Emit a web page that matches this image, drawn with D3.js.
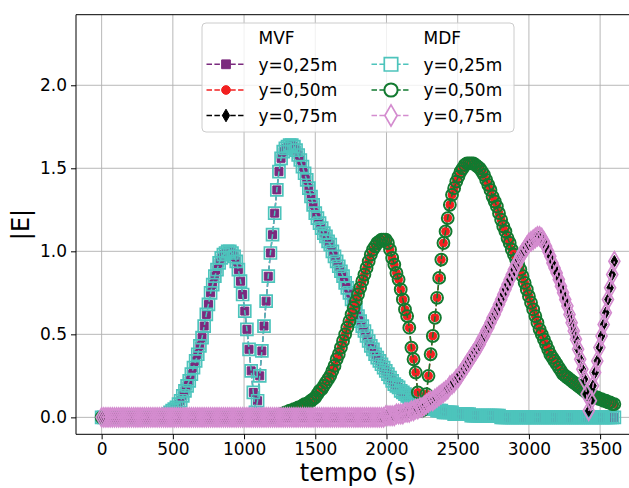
<!DOCTYPE html>
<html>
<head>
<meta charset="utf-8">
<script src="https://cdn.jsdelivr.net/npm/d3@7"></script>
<style>
  body { margin: 0; background: #fff; }
  text { font-family: "DejaVu Sans", sans-serif; fill: #000; }
</style>
</head>
<body>
<script>
// samples every 15 s, from 0 s to 3600 s
var tStep = 15;

// |E| at y=0,25m (MVF)
var mvf025 = [
  0,0,0,0,0,0,0,0,0,0,
  0,0,0,0,0,0,0,0,0,0,
  0,0,0,0,0,0,0,0,
  0.00,0.01,0.01,0.02,0.03,0.04,0.05,0.06,0.08,0.10,
  0.13,0.16,0.19,0.22,0.26,0.30,0.34,0.38,0.43,0.48,
  0.55,0.62,0.68,0.75,0.80,0.85,0.89,0.93,0.96,0.98,
  0.99,1.00,1.00,0.99,0.97,0.94,0.89,0.82,0.74,0.64,
  0.53,0.41,0.28,0.15,0.03,0.10,0.25,0.40,0.55,0.70,
  0.85,0.99,1.10,1.23,1.37,1.48,1.56,1.60,1.62,1.63,
  1.64,1.64,1.63,1.61,1.58,1.55,1.51,1.47,1.43,1.38,
  1.33,1.28,1.23,1.20,1.17,1.14,1.11,1.09,1.06,1.04,
  1.00,0.97,0.94,0.91,0.88,0.85,0.81,0.78,0.75,0.71,
  0.68,0.65,0.61,0.58,0.55,0.52,0.49,0.46,0.43,0.41,
  0.38,0.36,0.34,0.32,0.30,0.28,0.26,0.24,0.22,0.20,
  0.19,0.18,0.16,0.15,0.14,0.13,0.12,0.11,0.10,0.09,
  0.09,0.08,0.07,0.07,0.06,0.06,0.05,0.05,0.05,0.04,
  0.04,0.04,0.03,0.03,0.03,0.03,0.03,0.02,0.02,0.02,
  0.02,0.02,0.02,0.02,0.02,0.01,0.01,0.01,0.01,0.01,
  0.01,0.01,0.01,0.01,0.01,0.01,0.01,0.01,0.01,0,
  0,0,0,0,0,0,0,0,0,0,
  0,0,0,0,0,0,0,0,0,0,
  0,0,0,0,0,0,0,0,0,0,
  0,0,0,0,0,0,0,0,0,0,
  0,0,0,0,0,0,0,0,0,0,
  0,0,0
];

// |E| at y=0,50m (MVF)
var mvf050 = [
  0,0,0,0,0,0,0,0,0,0,
  0,0,0,0,0,0,0,0,0,0,
  0,0,0,0,0,0,0,0,0,0,
  0,0,0,0,0,0,0,0,0,0,
  0,0,0,0,0,0,0,0,0,0,
  0,0,0,0,0,0,0,0,0,0,
  0,0,0,0,0,0,0,0,0,0,
  0,0,0,0,0,0,0,0,0,0,
  0,
  0.00,0.01,0.01,0.02,0.02,0.03,0.03,0.04,0.04,0.05,
  0.05,0.06,0.06,0.07,0.08,0.08,0.09,0.10,0.11,0.12,
  0.14,0.16,0.17,0.19,0.21,0.23,0.25,0.28,0.31,0.35,
  0.38,0.42,0.46,0.50,0.54,0.58,0.62,0.66,0.70,0.74,
  0.78,0.82,0.86,0.90,0.94,0.98,1.01,1.03,1.05,1.06,
  1.07,1.07,1.07,1.05,1.01,0.96,0.92,0.87,0.83,0.77,
  0.71,0.65,0.61,0.54,0.42,0.35,0.27,0.15,0.06,0.04,
  0.06,0.14,0.25,0.38,0.49,0.60,0.72,0.84,0.95,1.05,
  1.12,1.20,1.28,1.34,1.38,1.42,1.45,1.48,1.50,1.52,
  1.53,1.53,1.53,1.53,1.52,1.51,1.50,1.48,1.46,1.43,
  1.40,1.37,1.33,1.30,1.27,1.23,1.19,1.15,1.12,1.08,
  1.05,1.01,0.98,0.95,0.92,0.89,0.85,0.81,0.77,0.73,
  0.69,0.65,0.61,0.57,0.53,0.50,0.47,0.44,0.41,0.38,
  0.36,0.34,0.32,0.30,0.28,0.26,0.25,0.24,0.23,0.22,
  0.21,0.20,0.19,0.18,0.17,0.16,0.15,0.14,0.13,0.13,
  0.12,0.12,0.11,0.11,0.10,0.10,0.09,0.09,0.08,0.08
];

// |E| at y=0,75m (MVF)
var mvf075 = [
  0,0,0,0,0,0,0,0,0,0,
  0,0,0,0,0,0,0,0,0,0,
  0,0,0,0,0,0,0,0,0,0,
  0,0,0,0,0,0,0,0,0,0,
  0,0,0,0,0,0,0,0,0,0,
  0,0,0,0,0,0,0,0,0,0,
  0,0,0,0,0,0,0,0,0,0,
  0,0,0,0,0,0,0,0,0,0,
  0,0,0,0,0,0,0,0,0,0,
  0,0,0,0,0,0,0,0,0,0,
  0,0,0,0,0,0,0,0,0,0,
  0,0,0,0,0,0,0,0,0,0,
  0,0,0,0,0,0,0,0,0,0,
  0.00,0.00,0.00,0.01,0.01,0.01,0.01,0.01,0.02,0.02,
  0.02,0.02,0.03,0.03,0.03,0.04,0.04,0.05,0.05,0.06,
  0.06,0.07,0.08,0.09,0.10,0.10,0.11,0.12,0.13,0.14,
  0.15,0.16,0.17,0.19,0.20,0.21,0.23,0.24,0.26,0.28,
  0.30,0.32,0.34,0.36,0.38,0.40,0.42,0.44,0.47,0.49,
  0.52,0.54,0.57,0.60,0.62,0.65,0.68,0.71,0.74,0.77,
  0.80,0.83,0.86,0.89,0.92,0.94,0.97,0.99,1.01,1.03,
  1.05,1.06,1.07,1.08,1.09,1.09,1.08,1.06,1.03,1.00,
  0.97,0.93,0.90,0.87,0.83,0.79,0.75,0.71,0.67,0.62,
  0.57,0.52,0.47,0.41,0.35,0.29,0.23,0.14,0.04,0.10,
  0.19,0.27,0.34,0.42,0.49,0.56,0.63,0.71,0.78,0.86,
  0.94
];

// the MDF runs lie on top of the MVF runs in the picture
var mdf025 = mvf025;
var mdf050 = mvf050;
var mdf075 = mvf075;

var xTicks = [0, 500, 1000, 1500, 2000, 2500, 3000, 3500];
var yTicks = [0.0, 0.5, 1.0, 1.5, 2.0];
var legendCols = ["MVF", "MDF"];
var legendRows = ["y=0,25m", "y=0,50m", "y=0,75m"];

var width = 629, height = 488;
var axL = 76, axR = 640, axT = 14.7, axB = 434.3;

var svg = d3.select("body").append("svg")
  .attr("width", width).attr("height", height);

var x = d3.scaleLinear().domain([-180, 3780]).range([axL, axR]);
var y = d3.scaleLinear().domain([-0.102, 2.425]).range([axB, axT]);

// grid
svg.append("g").selectAll("line").data(xTicks).enter().append("line")
  .attr("x1", d => x(d)).attr("x2", d => x(d))
  .attr("y1", axT).attr("y2", axB)
  .attr("stroke", "#b0b0b0").attr("stroke-width", 0.9);
svg.append("g").selectAll("line").data(yTicks).enter().append("line")
  .attr("x1", axL).attr("x2", axR)
  .attr("y1", d => y(d)).attr("y2", d => y(d))
  .attr("stroke", "#b0b0b0").attr("stroke-width", 0.9);

svg.append("clipPath").attr("id", "clip").append("rect")
  .attr("x", axL).attr("y", axT).attr("width", axR - axL).attr("height", axB - axT);

var purple = "#7b2a7e", red = "#f22020", black = "#000000";
var cyan = "#4dc4bc", green = "#127a30", pink = "#d48ccf";

var series = [
  {v: mvf025, sym: d3.symbolSquare,  size: 64,  fill: purple, stroke: purple, sw: 1,   col: purple},
  {v: mdf025, sym: d3.symbolSquare,  size: 144, fill: "none", stroke: cyan,   sw: 1.7, col: cyan},
  {v: mvf050, sym: d3.symbolCircle,  size: 50,  fill: red,    stroke: red,    sw: 1,   col: red},
  {v: mdf050, sym: d3.symbolCircle,  size: 110, fill: "none", stroke: green,  sw: 2,   col: green},
  {v: mvf075, sym: d3.symbolDiamond, size: 38,  fill: black,  stroke: black,  sw: 1,   col: black},
  {v: mdf075, sym: d3.symbolDiamond, size: 105, fill: "none", stroke: pink,   sw: 1.7, col: pink}
];

var plot = svg.append("g").attr("clip-path", "url(#clip)");
var line = d3.line().x((d, i) => x(i * tStep)).y(d => y(d));

series.forEach(function (s) {
  var g = plot.append("g");
  g.append("path").datum(s.v)
    .attr("d", line)
    .attr("fill", "none").attr("stroke", s.col)
    .attr("stroke-width", 1.5).attr("stroke-dasharray", "5.5,2.4");
  g.selectAll("path.m").data(s.v).enter().append("path")
    .attr("class", "m")
    .attr("d", d3.symbol().type(s.sym).size(s.size))
    .attr("transform", (d, i) => "translate(" + x(i * tStep) + "," + y(d) + ")")
    .attr("fill", s.fill).attr("stroke", s.stroke).attr("stroke-width", s.sw);
});

// axes
var xAxis = svg.append("g").attr("transform", "translate(0," + axB + ")")
  .call(d3.axisBottom(x).tickValues(xTicks).tickSize(5).tickPadding(4).tickFormat(d3.format("d")));
var yAxis = svg.append("g").attr("transform", "translate(" + axL + ",0)")
  .call(d3.axisLeft(y).tickValues(yTicks).tickSize(5).tickPadding(4).tickFormat(d3.format(".1f")));
[xAxis, yAxis].forEach(function (a) {
  a.select(".domain").remove();
  a.selectAll("text").style("font-size", "17px").attr("fill", "#000")
    .style("font-family", "DejaVu Sans, sans-serif");
  a.selectAll("line").attr("stroke", "#000").attr("stroke-width", 1);
});

// spines
svg.append("path")
  .attr("d", "M" + axL + "," + axB + "H" + axR + "M" + axL + "," + axB + "V" + axT + "H" + axR)
  .attr("fill", "none").attr("stroke", "#000").attr("stroke-width", 1);

svg.append("text").attr("x", 358).attr("y", 481)
  .attr("text-anchor", "middle").style("font-size", "24px").text("tempo (s)");
svg.append("text").attr("transform", "translate(29,224.5) rotate(-90)")
  .attr("text-anchor", "middle").style("font-size", "24px").text("|E|");

// legend
var leg = svg.append("g");
leg.append("rect").attr("x", 202).attr("y", 23).attr("width", 312).attr("height", 109)
  .attr("rx", 4).attr("fill", "#fff").attr("fill-opacity", 0.8)
  .attr("stroke", "#cccccc").attr("stroke-width", 1);

var colX = [206.5, 371.5];
var rowY = [64.3, 90, 115.5];
legendCols.forEach(function (name, c) {
  leg.append("text").attr("x", colX[c] + 52).attr("y", 44)
    .style("font-size", "17px").text(name);
  legendRows.forEach(function (lab, r) {
    var s = series[r * 2 + c];
    var cy = rowY[r];
    leg.append("line").attr("x1", colX[c]).attr("x2", colX[c] + 37)
      .attr("y1", cy).attr("y2", cy)
      .attr("stroke", s.col).attr("stroke-width", 1.5).attr("stroke-dasharray", "5.5,2.4");
    leg.append("path").attr("d", d3.symbol().type(s.sym).size(s.size * (c ? 1.25 : 1.2)))
      .attr("transform", "translate(" + (colX[c] + 19.5) + "," + cy + ")")
      .attr("fill", c ? "#fff" : s.fill).attr("stroke", s.stroke).attr("stroke-width", s.sw);
    leg.append("text").attr("x", colX[c] + 52).attr("y", cy + 6.3)
      .style("font-size", "17px").text(lab);
  });
});
</script>
</body>
</html>
